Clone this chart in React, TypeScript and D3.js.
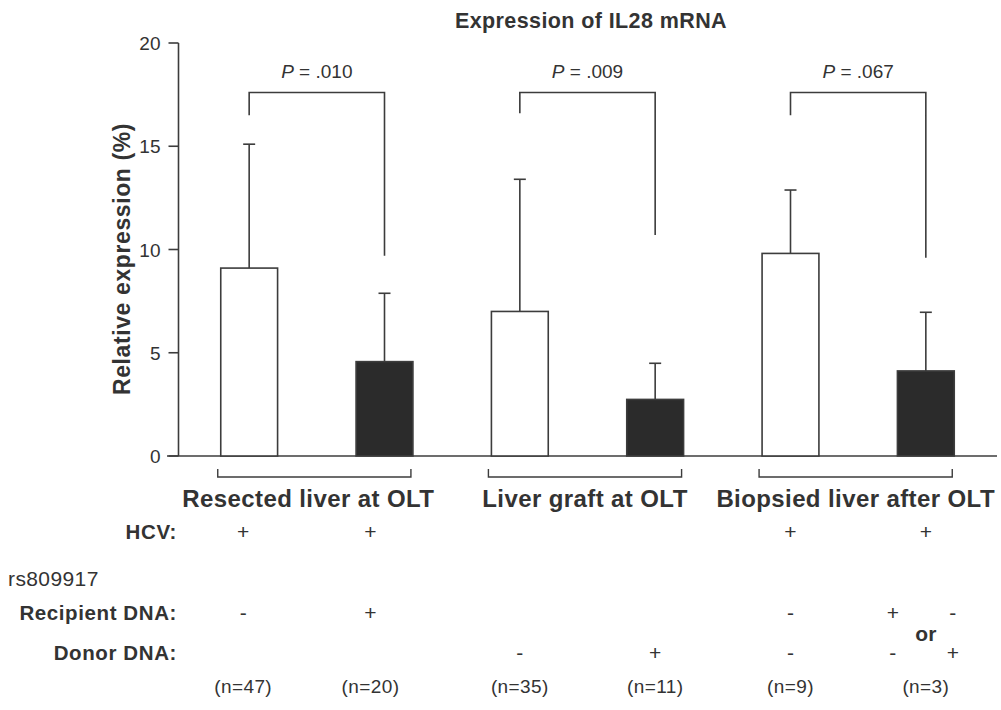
import React from 'react';
import * as d3 from 'd3';

// Bars: two per tissue group (rs809917 non-carrier / carrier)
const barIds = ['r1', 'r2', 'g1', 'g2', 'b1', 'b2'];
const means = [9.1, 4.57, 7.0, 2.74, 9.81, 4.12];
const upperSD = [15.1, 7.88, 13.4, 4.49, 12.88, 6.96];
const filled = [false, true, false, true, false, true];

const groups = ['Resected liver at OLT', 'Liver graft at OLT', 'Biopsied liver after OLT'];
const pLabels = ['.010', '.009', '.067'];
const bracketTop = 17.6;
const bracketLeftEnd = [16.5, 16.6, 16.5];
const bracketRightEnd = [9.7, 10.7, 9.6];

const yTicks = [0, 5, 10, 15, 20];

const hcvRow = ['+', '+', '', '', '+', '+'];
const recipientRow = ['-', '+', '', '', '-', ''];
const donorRow = ['', '', '-', '+', '-', ''];
const nLabels = ['(n=47)', '(n=20)', '(n=35)', '(n=11)', '(n=9)', '(n=3)'];
// last column reads "+ / -  or  - / +"
const lastColRecipient = ['+', '-'];
const lastColDonor = ['-', '+'];

const W = 1001;
const H = 710;
const font = '"Liberation Sans", Arial, Helvetica, sans-serif';
const ink = '#333';
const line = '#3c3c3c';

export default function App() {
  const x = d3.scaleBand().domain(barIds).range([181.5, 993.5]).paddingInner(0.58).paddingOuter(0.29);
  const y = d3.scaleLinear().domain([0, 20]).range([456, 43]);
  const bw = x.bandwidth();
  const cx = (i: number) => (x(barIds[i]) as number) + bw / 2;
  // annotation columns sit a little left of the bar centres in the first group
  const col = (i: number) => cx(i) - (i === 1 ? 14 : i === 0 ? 6 : 0);
  const axisX = 178.5;

  const rowY = { hcv: 539, rs: 586, rec: 620, don: 660, or: 641, n: 693 };

  return (
    <svg width={W} height={H} style={{ position: 'absolute', left: 0, top: 0, background: '#fff' }} fontFamily={font}>
      {/* title */}
      <text x={591} y={28} textAnchor="middle" fontSize={21.5} letterSpacing={0.4} fontWeight="bold" fill={ink}>
        Expression of IL28 mRNA
      </text>

      {/* y axis */}
      <line x1={axisX} x2={axisX} y1={y(20)} y2={y(0)} stroke={line} strokeWidth={1.6} />
      {yTicks.map((t) => (
        <g key={t}>
          <line x1={axisX - 10} x2={axisX} y1={y(t)} y2={y(t)} stroke={line} strokeWidth={1.6} />
          <text x={axisX - 18} y={y(t) + 7} textAnchor="end" fontSize={19} fill={ink}>
            {t}
          </text>
        </g>
      ))}
      <text
        transform={`translate(130, 259) rotate(-90)`}
        textAnchor="middle"
        fontSize={23}
        letterSpacing={0.6}
        fontWeight="bold"
        fill={ink}
      >
        Relative expression (%)
      </text>

      {/* baseline */}
      <line x1={167} x2={997} y1={y(0)} y2={y(0)} stroke={line} strokeWidth={1.6} />

      {/* error bars */}
      {barIds.map((id, i) => (
        <g key={'e' + id} stroke={line} strokeWidth={1.6}>
          <line x1={cx(i)} x2={cx(i)} y1={y(means[i])} y2={y(upperSD[i])} />
          <line x1={cx(i) - 6} x2={cx(i) + 6} y1={y(upperSD[i])} y2={y(upperSD[i])} />
        </g>
      ))}

      {/* bars */}
      {barIds.map((id, i) => (
        <rect
          key={id}
          x={x(id)}
          y={y(means[i])}
          width={bw}
          height={y(0) - y(means[i])}
          fill={filled[i] ? '#2b2b2b' : '#fff'}
          stroke={line}
          strokeWidth={1.6}
        />
      ))}

      {/* significance brackets */}
      {groups.map((g, k) => {
        const a = cx(2 * k);
        const b = cx(2 * k + 1);
        return (
          <g key={'p' + k}>
            <path
              d={`M${a},${y(bracketLeftEnd[k])}V${y(bracketTop)}H${b}V${y(bracketRightEnd[k])}`}
              fill="none"
              stroke={line}
              strokeWidth={1.6}
            />
            <text x={(a + b) / 2} y={y(bracketTop) - 15} textAnchor="middle" fontSize={19} fill={ink}>
              <tspan fontStyle="italic">P</tspan> = {pLabels[k]}
            </text>
          </g>
        );
      })}

      {/* group brackets and labels */}
      {groups.map((g, k) => {
        const a = (x(barIds[2 * k]) as number) - 3;
        const b = (x(barIds[2 * k + 1]) as number) + bw - 2;
        const yb = y(0) + 21;
        return (
          <g key={'g' + k}>
            <path d={`M${a},${yb - 8}V${yb}H${b}V${yb - 8}`} fill="none" stroke={line} strokeWidth={1.4} />
            <text
              x={(a + b) / 2 - (k === 0 ? 6 : 0)}
              y={507}
              textAnchor="middle"
              fontSize={24}
              letterSpacing={0.4}
              fontWeight="bold"
              fill={ink}
            >
              {g}
            </text>
          </g>
        );
      })}

      {/* row labels */}
      <g fontSize={20.5} letterSpacing={0.6} fontWeight="bold" fill={ink} textAnchor="end">
        <text x={177} y={rowY.hcv}>HCV:</text>
        <text x={177} y={rowY.rec}>Recipient DNA:</text>
        <text x={177} y={rowY.don}>Donor DNA:</text>
      </g>
      <text x={8} y={rowY.rs} fontSize={21} letterSpacing={0.4} fill={ink}>
        rs809917
      </text>

      {/* row values */}
      <g fontSize={21} fill={ink} textAnchor="middle">
        {barIds.map((id, i) => (
          <g key={'r' + id}>
            <text x={col(i)} y={rowY.hcv}>{hcvRow[i]}</text>
            <text x={col(i)} y={rowY.rec}>{recipientRow[i]}</text>
            <text x={col(i)} y={rowY.don}>{donorRow[i]}</text>
            <text x={col(i)} y={rowY.n} fontSize={19} letterSpacing={0.4}>{nLabels[i]}</text>
          </g>
        ))}
        {lastColRecipient.map((s, j) => (
          <text key={'lr' + j} x={cx(5) + (j === 0 ? -33 : 27)} y={rowY.rec}>{s}</text>
        ))}
        {lastColDonor.map((s, j) => (
          <text key={'ld' + j} x={cx(5) + (j === 0 ? -33 : 27)} y={rowY.don}>{s}</text>
        ))}
        <text x={cx(5)} y={rowY.or} fontWeight="bold">or</text>
      </g>
    </svg>
  );
}
